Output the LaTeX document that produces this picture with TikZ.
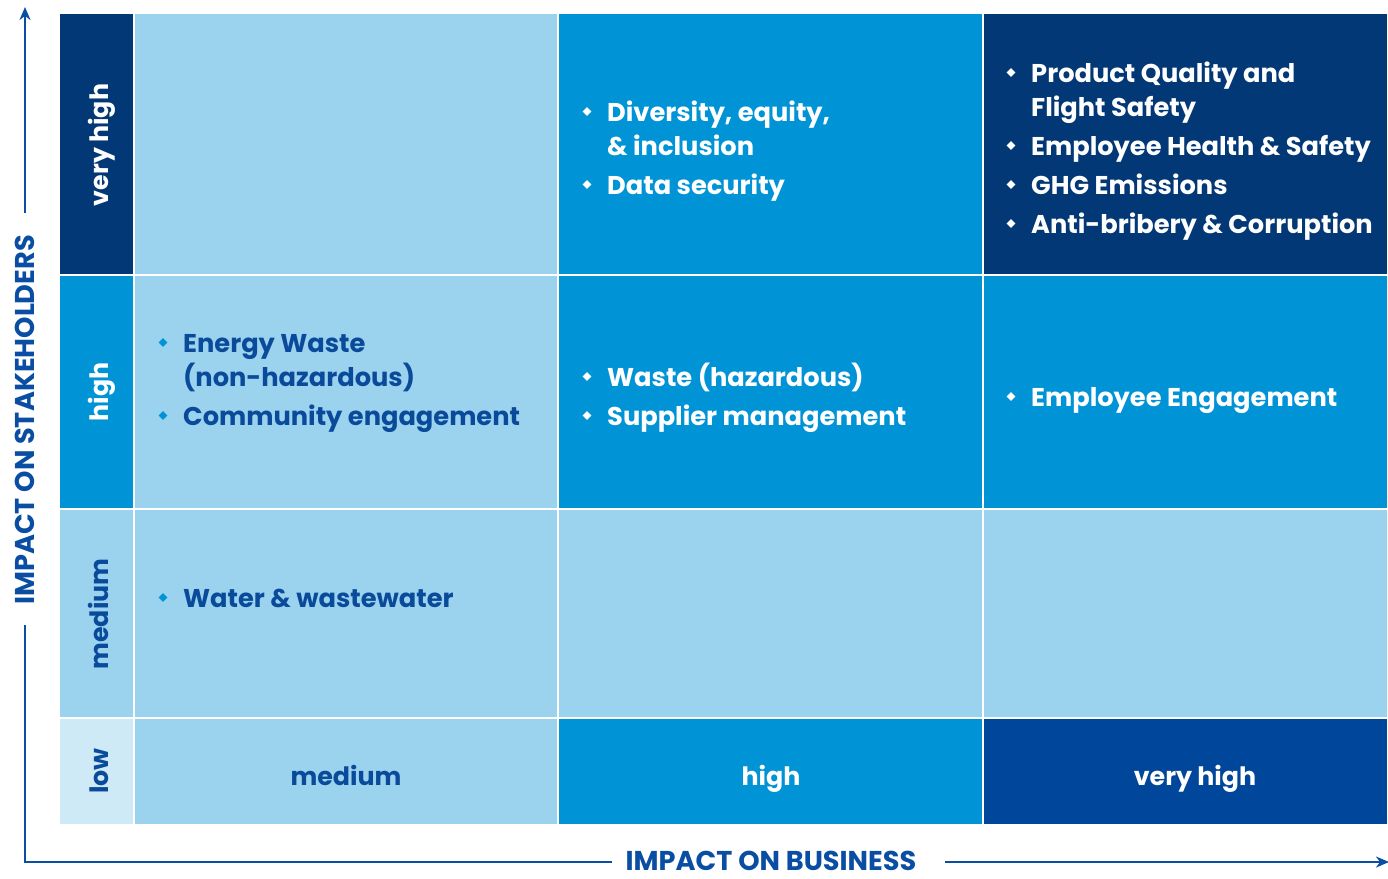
\documentclass[tikz,border=0pt]{standalone}
\usepackage{fontspec}
\setmainfont{Poppins}
\usetikzlibrary{arrows.meta,shapes.geometric}

\definecolor{navy}{HTML}{033876}
\definecolor{royal}{HTML}{00469A}
\definecolor{midblue}{HTML}{0094D7}
\definecolor{pale}{HTML}{9BD3EE}
\definecolor{palest}{HTML}{CEEAF7}
\definecolor{ink}{HTML}{0A4A9B}
\definecolor{axisblue}{HTML}{0A4EA3}

\tikzset{
  cell/.style={draw=white, line width=1.5pt},
  txt/.style={anchor=base west, inner sep=0pt, font=\fontsize{25.7}{30}\selectfont\bfseries},
  lighttxt/.style={txt, text=white},
  darktxt/.style={txt, text=ink},
  dot/.style={shape=diamond, inner sep=0pt, minimum width=9pt, minimum height=9pt},
  lightdot/.style={dot, fill=white},
  darkdot/.style={dot, fill=midblue},
  rowlabel/.style={rotate=90, anchor=base, inner sep=0pt, font=\fontsize{25.3}{30}\selectfont\bfseries},
  collabel/.style={anchor=base, inner sep=0pt, font=\fontsize{25.3}{30}\selectfont\bfseries},
  axislabel/.style={inner sep=0pt, text=axisblue, font=\fontsize{27.2}{32}\selectfont\bfseries},
  axisline/.style={draw=axisblue, line width=2.4pt},
  axisarrow/.style={axisline, -{Stealth[length=13pt,width=11pt,inset=4pt]}}
}

% bullet entry: name, x of text, baseline, kind (light/dark), text
\newcommand\entry[5]{%
  \node[#4dot] (#1-dot) at (#2-20,#3-9.5) {};
  \node[#4txt] (#1) at (#2,#3) {#5};
}

\begin{document}
\begin{tikzpicture}[x=1pt,y=-1pt]
\useasboundingbox (0,0) rectangle (1388,878);

% ---- grid ----
% row label column
\path[cell, fill=navy]    (59,13)  rectangle (134,275);
\path[cell, fill=midblue] (59,275) rectangle (134,509);
\path[cell, fill=pale]    (59,509) rectangle (134,718);
\path[cell, fill=palest]  (59,718) rectangle (134,825);
% very high row
\path[cell, fill=pale]    (134,13) rectangle (558,275);
\path[cell, fill=midblue] (558,13) rectangle (983,275);
\path[cell, fill=navy]    (983,13) rectangle (1388,275);
% high row
\path[cell, fill=pale]    (134,275) rectangle (558,509);
\path[cell, fill=midblue] (558,275) rectangle (983,509);
\path[cell, fill=midblue] (983,275) rectangle (1388,509);
% medium row
\path[cell, fill=pale] (134,509) rectangle (558,718);
\path[cell, fill=pale] (558,509) rectangle (983,718);
\path[cell, fill=pale] (983,509) rectangle (1388,718);
% low row / column headers
\path[cell, fill=pale]    (134,718) rectangle (558,825);
\path[cell, fill=midblue] (558,718) rectangle (983,825);
\path[cell, fill=royal]   (983,718) rectangle (1388,825);

% ---- row labels ----
\node[rowlabel, text=white] (r-vh) at (108,145) {very high};
\node[rowlabel, text=white] (r-h)  at (108,392) {high};
\node[rowlabel, text=ink]   (r-m)  at (108,614) {medium};
\node[rowlabel, text=ink]   (r-l)  at (108,771) {low};

% ---- column labels ----
\node[collabel, text=ink]   (c-m)  at (346,785) {medium};
\node[collabel, text=white] (c-h)  at (771,785) {high};
\node[collabel, text=white] (c-vh) at (1195,785) {very high};

% ---- cell contents ----
\entry{dei}{607}{121}{light}{Diversity, equity,}
\node[lighttxt] (dei2) at (607,155) {\& inclusion};
\entry{data}{607}{194}{light}{Data security}

\entry{pq}{1031}{82}{light}{Product Quality and}
\node[lighttxt] (pq2) at (1031,116) {Flight Safety};
\entry{ehs}{1031}{155}{light}{Employee Health \& Safety}
\entry{ghg}{1031}{194}{light}{GHG Emissions}
\entry{abc}{1031}{233}{light}{Anti-bribery \& Corruption}

\entry{ew}{183}{352}{dark}{Energy Waste}
\node[darktxt] (ew2) at (183,386) {(non-hazardous)};
\entry{ce}{183}{425}{dark}{Community engagement}

\entry{wh}{607}{386}{light}{Waste (hazardous)}
\entry{sm}{607}{425}{light}{Supplier management}

\entry{ee}{1031}{406}{light}{Employee Engagement}

\entry{ww}{183}{607}{dark}{Water \& wastewater}

% ---- axes ----
\node[axislabel, rotate=90] (ylab) at (25,420) {IMPACT ON STAKEHOLDERS};
\node[axislabel] (xlab) at (771,861) {IMPACT ON BUSINESS};
\coordinate (ytop) at (25,7);
\coordinate (yup) at (25,213);
\coordinate (ydown) at (25,625);
\coordinate (corner) at (25,862);
\coordinate (xleft) at (612,862);
\coordinate (xright) at (945,862);
\coordinate (xend) at (1389,862);
\draw[axisarrow] (yup) -- (ytop);
\draw[axisline] (ydown) -- (corner) -- (xleft);
\draw[axisarrow] (xright) -- (xend);
\end{tikzpicture}
\end{document}
